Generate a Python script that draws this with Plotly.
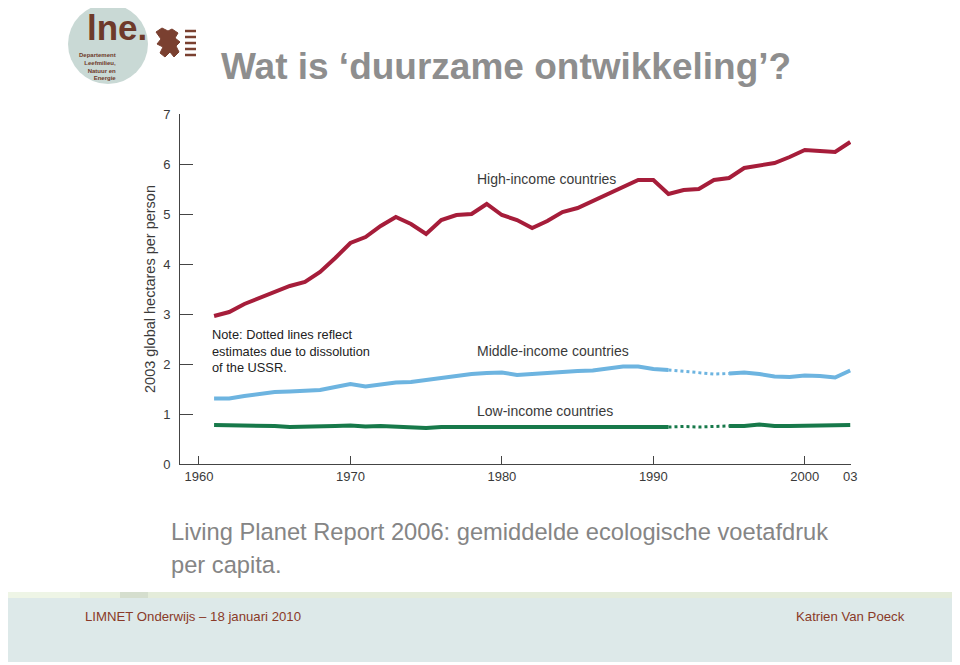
import plotly.graph_objects as go

# ---------------- data ----------------
years = list(range(1961, 2004))
high_income = [2.96, 3.04, 3.20, 3.32, 3.46, 3.56, 3.64, 3.84, 4.12, 4.42,
               4.54, 4.76, 4.94, 4.80, 4.60, 4.88, 4.98, 5.00, 5.20, 4.98,
               4.88, 4.72, 4.86, 5.04, 5.12, 5.26, 5.40, 5.52, 5.68, 5.68,
               5.40, 5.48, 5.50, 5.68, 5.72, 5.92, 5.96, 6.02, 6.14, 6.28,
               6.26, 6.24, 6.44]
middle_income = [1.31, 1.31, 1.36, 1.40, 1.44, 1.45, 1.46, 1.48, 1.54, 1.60,
                 1.55, 1.60, 1.63, 1.64, 1.68, 1.73, 1.76, 1.80, 1.82, 1.83,
                 1.78, 1.80, 1.83, 1.86, 1.86, 1.87, 1.92, 1.95, 1.95, 1.90,
                 1.88, 1.85, 1.82, 1.80, 1.81, 1.83, 1.80, 1.75, 1.74, 1.77,
                 1.76, 1.73, 1.87]
low_income = [0.78, 0.78, 0.78, 0.76, 0.76, 0.74, 0.74, 0.74, 0.76, 0.77,
              0.75, 0.76, 0.75, 0.74, 0.72, 0.74, 0.74, 0.74, 0.74, 0.74,
              0.74, 0.72, 0.73, 0.74, 0.73, 0.74, 0.74, 0.74, 0.74, 0.74,
              0.74, 0.75, 0.74, 0.75, 0.76, 0.76, 0.79, 0.76, 0.76, 0.76,
              0.78, 0.78, 0.78]
dotted_years = [1991, 1992, 1993, 1994, 1995]   # estimates (dissolution of USSR)

tick_vals = [1960, 1970, 1980, 1990, 2000, 2003]
tick_text = ["1960", "1970", "1980", "1990", "2000", "03"]
y_ticks = [0, 1, 2, 3, 4, 5, 6, 7]

title_text = "Wat is \u2018duurzame ontwikkeling\u2019?"
caption_lines = ["Living Planet Report 2006: gemiddelde ecologische voetafdruk", "per capita."]
footer_left = "LIMNET Onderwijs \u2013 18 januari 2010"
footer_right = "Katrien Van Poeck"

RED = "#a61d3a"
BLUE = "#6db4e0"
GREEN = "#17794a"
TXT = "#3a3a3a"
FONT = "Liberation Sans, Arial, sans-serif"

# ---------------- geometry helpers (page pixel -> paper) ----------------
OFF = 8                      # browser default body margin
W, H = 960 - OFF, 665 - OFF  # figure size
L, R, T, B = 180 - OFF, 960 - 851, 114 - OFF, 665 - 464
PW, PH = W - L - R, H - T - B


def px(x):
    return (x - OFF - L) / PW


def py(y):
    return (H - B - (y - OFF)) / PH


def split(vals):
    solid, dotted = [], []
    for yr, v in zip(years, vals):
        solid.append(None if dotted_years[0] < yr < dotted_years[-1] else v)
        if yr in dotted_years:
            dotted.append(v)
    return solid, dotted


fig = go.Figure()
for vals, col in [(high_income, RED), (middle_income, BLUE), (low_income, GREEN)]:
    if col == RED:
        fig.add_trace(go.Scatter(x=years, y=vals, mode="lines",
                                 line=dict(color=col, width=4), showlegend=False,
                                 hoverinfo="skip"))
    else:
        solid, dotted = split(vals)
        fig.add_trace(go.Scatter(x=years, y=solid, mode="lines",
                                 line=dict(color=col, width=4), showlegend=False,
                                 connectgaps=False, hoverinfo="skip"))
        fig.add_trace(go.Scatter(x=dotted_years, y=dotted, mode="lines",
                                 line=dict(color=col, width=3, dash="dot"),
                                 showlegend=False, hoverinfo="skip"))

annotations = []
# series labels
for txt, yy in [("High-income countries", 179), ("Middle-income countries", 351),
                ("Low-income countries", 411)]:
    annotations.append(dict(text=txt, xref="paper", yref="paper", x=px(475), y=py(yy),
                            xanchor="left", yanchor="middle", showarrow=False,
                            font=dict(family=FONT, size=14, color=TXT)))
annotations.append(dict(text="Note: Dotted lines reflect<br>estimates due to dissolution<br>of the USSR.",
                        xref="paper", yref="paper", x=px(210), y=py(351),
                        xanchor="left", yanchor="middle", align="left", showarrow=False,
                        font=dict(family=FONT, size=12.8, color="#222")))
# title
annotations.append(dict(text="<b>" + title_text + "</b>", xref="paper", yref="paper",
                        x=px(219), y=py(67), xanchor="left", yanchor="middle", showarrow=False,
                        font=dict(family=FONT, size=37, color="#8e8e8e")))
# caption
for i, line in enumerate(caption_lines):
    annotations.append(dict(text=line, xref="paper", yref="paper",
                            x=px(169), y=py(532 + 33 * i), xanchor="left",
                            yanchor="middle", showarrow=False,
                            font=dict(family=FONT, size=23.7, color="#858585")))
# footer
annotations.append(dict(text=footer_left, xref="paper", yref="paper", x=px(83), y=py(616),
                        xanchor="left", yanchor="middle", showarrow=False,
                        font=dict(family=FONT, size=13.2, color="#8a3a28")))
annotations.append(dict(text=footer_right, xref="paper", yref="paper", x=px(907), y=py(616),
                        xanchor="right", yanchor="middle", showarrow=False,
                        font=dict(family=FONT, size=13.2, color="#8a3a28")))
# logo texts
annotations.append(dict(text="<b>lne.</b>", xref="paper", yref="paper", x=px(85), y=py(28),
                        xanchor="left", yanchor="middle", showarrow=False,
                        font=dict(family=FONT, size=35, color="#6e3a2a")))
annotations.append(dict(text="<b>Departement<br>Leefmilieu,<br>Natuur en<br>Energie</b>",
                        xref="paper", yref="paper", x=px(118), y=py(67), xanchor="right",
                        yanchor="middle", align="right", showarrow=False,
                        font=dict(family=FONT, size=6, color="#6e3a2a")))

shapes = []
# logo circle
shapes.append(dict(type="circle", xref="paper", yref="paper", x0=px(68), x1=px(148),
                   y0=py(84), y1=py(4), fillcolor="#c9d9d5", line=dict(width=0), layer="below"))
# lion-like emblem (rough)
lion = [(156, 32), (162, 28), (168, 31), (172, 29), (178, 33), (175, 38), (180, 42),
        (176, 46), (179, 52), (174, 57), (170, 52), (165, 57), (160, 53), (163, 47),
        (157, 44), (161, 39)]
path = "M " + " L ".join(f"{px(a)},{py(b)}" for a, b in lion) + " Z"
shapes.append(dict(type="path", xref="paper", yref="paper", path=path,
                   fillcolor="#7a4030", line=dict(color="#7a4030", width=1)))
for yy in [31, 37, 43, 49, 55]:
    shapes.append(dict(type="line", xref="paper", yref="paper", x0=px(185), x1=px(196),
                       y0=py(yy), y1=py(yy), line=dict(color="#7a4030", width=2.5)))
# footer band
shapes.append(dict(type="rect", xref="paper", yref="paper", x0=px(4), x1=px(956),
                   y0=py(662), y1=py(598), fillcolor="#dde9e9", line=dict(width=0), layer="below"))
for x0, x1, c in [(4, 80, "#eef5e6"), (80, 120, "#e8f0de"), (120, 148, "#d5dece"),
                  (148, 956, "#e4ecda")]:
    shapes.append(dict(type="rect", xref="paper", yref="paper", x0=px(x0), x1=px(x1),
                       y0=py(598), y1=py(592), fillcolor=c, line=dict(width=0), layer="below"))

fig.update_layout(
    width=W, height=H,
    margin=dict(l=L, r=R, t=T, b=B),
    paper_bgcolor="white", plot_bgcolor="white",
    showlegend=False,
    annotations=annotations,
    shapes=shapes,
    xaxis=dict(range=[1958.75, 2003.05], tickvals=tick_vals, ticktext=tick_text,
               showgrid=False, zeroline=False, showline=True, linecolor="#444", linewidth=1,
               ticks="inside", ticklen=8, tickcolor="#444",
               tickfont=dict(family=FONT, size=13, color=TXT)),
    yaxis=dict(range=[0, 7], tickvals=y_ticks, showgrid=False, zeroline=False,
               showline=True, linecolor="#444", linewidth=1, ticks="inside", ticklen=13,
               tickcolor="#444", ticklabelstandoff=6,
               tickfont=dict(family=FONT, size=13, color=TXT),
               title=dict(text="2003 global hectares per person", standoff=4,
                          font=dict(family=FONT, size=14.5, color=TXT))),
)

fig.write_html("out.html")
